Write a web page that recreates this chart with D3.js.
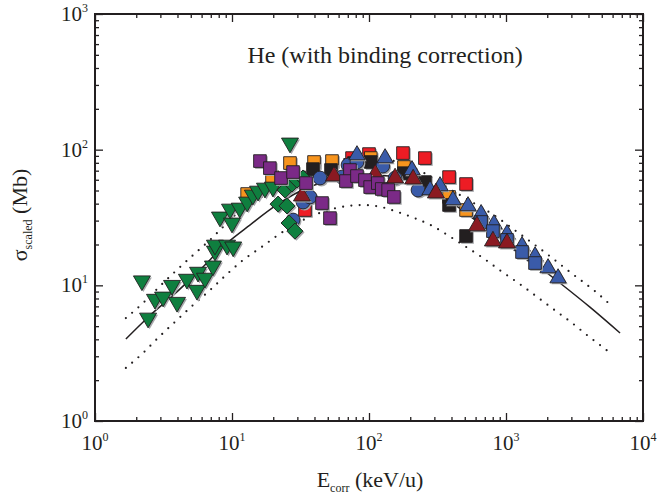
<!DOCTYPE html>
<meta charset="utf-8">
<style>
    body { margin: 0; background: #fff; }
    svg { font-family: "Liberation Serif", "Times New Roman", serif; }
    .axis path { display: none; }
    .axis line { stroke: #231f20; stroke-width: 1.3; }
</style>
<svg width="657" height="502"></svg>
<script src="https://d3js.org/d3.v7.min.js"></script>
<script>

// ---- data: [E_corr (keV/u), sigma_scaled (Mb)] ----
var greenTri = [[2.2, 10.8], [2.44, 5.74], [2.74, 7.9], [3.14, 8.2], [3.65, 10.0], [3.97, 7.5],
    [4.69, 11.1], [5.55, 9.2], [5.65, 12.5], [6.35, 11.3], [7.26, 13.9], [7.51, 17.9], [7.51, 19.8],
    [9.2, 19.8], [10.2, 19.2], [8.17, 31.9], [10, 28.8], [9.67, 36.5], [11.4, 37.1], [12.9, 41.1],
    [14.2, 46.3], [15.5, 49.5], [17.4, 52.1], [19.9, 53], [26.5, 112]];
var greenDia = [[21.7, 39.7], [25.2, 38.5], [24.4, 50.4], [27.4, 55.8], [29.8, 59.7], [26.1, 28.8],
    [28.8, 25.1], [33, 61.8]];
var redSq = [[100, 92.8], [177, 94.4], [256, 86.7], [384, 62.8], [511, 55.8], [75.2, 86.7], [34.1, 35.9]];
var orangeSq = [[26.5, 79.7], [12.9, 47.1], [19.6, 62.8], [39.7, 81.1], [53.7, 82.4], [103, 86.7],
    [180, 74.5], [384, 44.8], [511, 35.9]];
var blackSq = [[39, 71.9], [52.8, 70.8], [77.7, 79.7], [103, 81.1], [180, 67.1], [256, 57.7],
    [384, 39.1], [511, 23.1]];
var blueCirc = [[27.9, 30.3], [33, 41.1], [37.1, 44.8], [43.9, 61.8], [63.5, 62.8], [70.3, 77.1],
    [81.7, 81.1], [126, 75.7], [155, 61.8], [228, 50.4]];
var blueTri = [[81.7, 91.2], [131, 86.7], [206, 70.8], [279, 50.4], [330, 53.9], [410, 42.5],
    [528, 38.4], [658, 33.6], [817, 28.3], [1017, 23.9], [1309, 19.5], [1629, 16.4], [2027, 13.4],
    [2399, 11.3]];
var blueSq = [[658, 29.3], [803, 25.1], [1017, 21.6], [1309, 17.6], [1629, 14.6]];
var darkRedTri = [[32.4, 45.5], [55.5, 63.9], [111, 66.1], [155, 61.8], [210, 60.7], [308, 47.9],
    [614, 27.4], [803, 21.2], [1017, 20.5]];
var purpleSq = [[16, 82.4], [18.9, 73.1], [22.8, 61.8], [27.9, 68.4], [34.7, 56.7], [45.4, 40.4],
    [51.9, 31.3], [72.6, 70.8], [67.9, 58.7], [81.7, 63.9], [93.5, 59.7], [102, 53], [116, 56.7],
    [124, 51.3], [138, 50.4], [152, 44.8]];

// theory curves
var solidCurve = [[1.68, 4.02], [2.52, 6.0], [3.65, 8.3], [5.84, 13.0], [9.2, 20.5], [13.5, 27.8],
    [21.2, 39.1], [31.3, 49.4], [51.8, 59.6], [85.8, 65], [142, 64], [235, 54], [389, 41.8],
    [545, 32.4], [1000, 20.9], [2477, 10.4], [4100, 6.9], [6800, 4.45]];
var upperCurve = [[1.68, 5.74], [2.24, 7.4], [2.93, 9.7], [3.9, 12.8], [5.2, 16.7], [6.9, 21.6],
    [9.2, 28.8], [10.5, 32.9], [15, 42], [20, 51], [30, 65], [50, 79], [85, 88], [140, 84],
    [247, 68], [400, 50.4], [520, 43.1], [790, 33.6], [1264, 23.9], [1950, 17.3], [3000, 12.3],
    [4550, 8.9], [5950, 7.0]];
var lowerCurve = [[1.68, 2.46], [2.24, 3.17], [2.93, 4.16], [3.9, 5.46], [5.2, 7.16], [6.9, 9.2],
    [9.2, 12.1], [12, 15.3], [16.5, 19.2], [21.7, 23.5], [33, 30.3], [45.3, 34.6], [69, 38.4],
    [90, 39.1], [124, 37.7], [163, 34.6], [217, 31.2], [290, 27.4], [384, 23.1], [511, 19.2],
    [680, 15.9], [903, 12.9], [1264, 10.2], [1690, 8.2], [2270, 6.56], [3040, 5.27], [3980, 4.23],
    [5300, 3.39], [6000, 3.06]];

var xDecades = [0, 1, 2, 3, 4],
    yDecades = [0, 1, 2, 3];

var svg = d3.select("svg"),
    margin = { top: 14, right: 14, bottom: 81, left: 95 },
    width = +svg.attr("width") - margin.left - margin.right,
    height = +svg.attr("height") - margin.top - margin.bottom;

var x = d3.scaleLog().domain([1, 1e4]).range([0, width]),
    y = d3.scaleLog().domain([1, 1e3]).range([height, 0]);

var g = svg.append("g")
    .attr("transform", "translate(" + margin.left + "," + margin.top + ")");

// major / minor tick values
function minors(decs) {
    var out = [];
    decs.slice(0, -1).forEach(function (d) {
        for (var k = 2; k <= 9; k++) out.push(k * Math.pow(10, d));
    });
    return out;
}
var xMajor = xDecades.map(function (d) { return Math.pow(10, d); }),
    yMajor = yDecades.map(function (d) { return Math.pow(10, d); });

function addAxis(axisFn, scale, vals, size, tr) {
    g.append("g")
        .attr("class", "axis")
        .attr("transform", tr)
        .call(axisFn(scale).tickValues(vals).tickSize(size).tickFormat(""));
}
// ticks point inward on every side
addAxis(d3.axisBottom, x, xMajor, -8, "translate(0," + height + ")");
addAxis(d3.axisBottom, x, minors(xDecades), -4, "translate(0," + height + ")");
addAxis(d3.axisTop, x, xMajor, -8, "translate(0,0)");
addAxis(d3.axisTop, x, minors(xDecades), -4, "translate(0,0)");
addAxis(d3.axisLeft, y, yMajor, -8, "translate(0,0)");
addAxis(d3.axisLeft, y, minors(yDecades), -4, "translate(0,0)");
addAxis(d3.axisRight, y, yMajor, -8, "translate(" + width + ",0)");
addAxis(d3.axisRight, y, minors(yDecades), -4, "translate(" + width + ",0)");

g.append("rect")
    .attr("width", width)
    .attr("height", height)
    .attr("fill", "none")
    .attr("stroke", "#231f20")
    .attr("stroke-width", 2);

// tick labels 10^n
var xl = g.selectAll(".xlab").data(xDecades).enter().append("text")
    .attr("class", "xlab")
    .attr("x", function (d) { return x(Math.pow(10, d)); })
    .attr("y", height + 29)
    .attr("text-anchor", "middle")
    .attr("font-size", 21)
    .attr("fill", "#231f20");
xl.append("tspan").text("10");
xl.append("tspan").attr("dy", -9).attr("font-size", 12).text(function (d) { return d; });

var yl = g.selectAll(".ylab").data(yDecades).enter().append("text")
    .attr("class", "ylab")
    .attr("x", -7)
    .attr("y", function (d) { return y(Math.pow(10, d)) + 7; })
    .attr("text-anchor", "end")
    .attr("font-size", 21)
    .attr("fill", "#231f20");
yl.append("tspan").text("10");
yl.append("tspan").attr("dy", -9).attr("font-size", 12).text(function (d) { return d; });

// axis titles
var xt = svg.append("text")
    .attr("x", 370)
    .attr("y", 487)
    .attr("text-anchor", "middle")
    .attr("font-size", 22)
    .attr("fill", "#231f20");
xt.append("tspan").text("E");
xt.append("tspan").attr("dy", 5).attr("font-size", 12).text("corr");
xt.append("tspan").attr("dy", -5).text(" (keV/u)");

var yt = svg.append("text")
    .attr("transform", "translate(27,215) rotate(-90)")
    .attr("text-anchor", "middle")
    .attr("font-size", 22)
    .attr("fill", "#231f20");
yt.append("tspan").text("σ");
yt.append("tspan").attr("dy", 5).attr("font-size", 12).text("scaled");
yt.append("tspan").attr("dy", -5).text(" (Mb)");

g.append("text")
    .attr("x", 290)
    .attr("y", 49)
    .attr("text-anchor", "middle")
    .attr("font-size", 24)
    .attr("fill", "#231f20")
    .text("He (with binding correction)");

// curves
var line = d3.line()
    .x(function (d) { return x(d[0]); })
    .y(function (d) { return y(d[1]); })
    .curve(d3.curveMonotoneX);

g.append("path").datum(upperCurve)
    .attr("d", line).attr("fill", "none").attr("stroke", "#231f20")
    .attr("stroke-width", 2.2).attr("stroke-linecap", "round").attr("stroke-dasharray", "0,8.3");
g.append("path").datum(lowerCurve)
    .attr("d", line).attr("fill", "none").attr("stroke", "#231f20")
    .attr("stroke-width", 2.2).attr("stroke-linecap", "round").attr("stroke-dasharray", "0,8.3");
g.append("path").datum(solidCurve)
    .attr("d", line).attr("fill", "none").attr("stroke", "#231f20").attr("stroke-width", 1.5);

// markers
function drawSeries(data, type, size, rot, fill) {
    var sym = d3.symbol().type(type).size(size);
    var s = g.append("g");
    s.selectAll(".sh").data(data).enter().append("path")
        .attr("d", sym)
        .attr("transform", function (d) {
            return "translate(" + (x(d[0]) + 1.5) + "," + (y(d[1]) + 1.5) + ") rotate(" + rot + ")";
        })
        .attr("fill", "#a7a9ac");
    s.selectAll(".pt").data(data).enter().append("path")
        .attr("d", sym)
        .attr("transform", function (d) {
            return "translate(" + x(d[0]) + "," + y(d[1]) + ") rotate(" + rot + ")";
        })
        .attr("fill", fill)
        .attr("stroke", "#231f20")
        .attr("stroke-width", 0.9);
}

drawSeries(redSq, d3.symbolSquare, 160, 0, "#ed1c24");
drawSeries(orangeSq, d3.symbolSquare, 160, 0, "#f7941d");
drawSeries(blackSq, d3.symbolSquare, 160, 0, "#231f20");
drawSeries(blueCirc, d3.symbolCircle, 150, 0, "#3a5ba9");
drawSeries(blueTri, d3.symbolTriangle, 115, 0, "#3a5ba9");
drawSeries(blueSq, d3.symbolSquare, 160, 0, "#3a5ba9");
drawSeries(darkRedTri, d3.symbolTriangle, 125, 0, "#8b1a22");
drawSeries(greenTri, d3.symbolTriangle, 125, 180, "#0f7f3f");
drawSeries(greenDia, d3.symbolSquare, 130, 45, "#0f7f3f");
drawSeries(purpleSq, d3.symbolSquare, 160, 0, "#7b2a87");

</script>
